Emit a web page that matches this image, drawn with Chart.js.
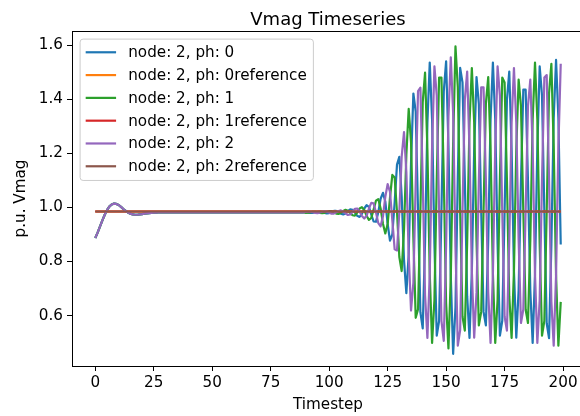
<!DOCTYPE html>
<html>
<head>
<meta charset="utf-8">
<script src="https://cdn.jsdelivr.net/npm/chart.js@4.4.1/dist/chart.umd.min.js"></script>
<style>
html, body { margin: 0; padding: 0; overflow: hidden; background: #fff; }
#wrap { width: 600px; height: 416px; }
</style>
</head>
<body>
<div id="wrap"><canvas id="vmagChart" width="600" height="416"></canvas></div>
<script>
const chartTitle = "Vmag Timeseries";
const xTitle = "Timestep";
const yTitle = "p.u. Vmag";

const seriesLabels = [
    "node: 2, ph: 0",
    "node: 2, ph: 0reference",
    "node: 2, ph: 1",
    "node: 2, ph: 1reference",
    "node: 2, ph: 2",
    "node: 2, ph: 2reference"
];
const seriesColors = ["#1f77b4", "#ff7f0e", "#2ca02c", "#d62728", "#9467bd", "#8c564b"];

// axis limits and ticks
const xMin = -9.95, xMax = 208.95, xStep = 25;
const yMin = 0.414, yMax = 1.652, yStep = 0.2;

// reference level per phase
const refVmag = [0.985, 0.985, 0.985];

// timesteps 0..89, the three phases overlap here
const startupVmag = [
    0.887, 0.907, 0.929, 0.951, 0.972, 0.990, 1.003, 1.011, 1.014, 1.013,
    1.009, 1.002, 0.994, 0.987, 0.981, 0.977, 0.974, 0.973, 0.973, 0.974,
    0.975, 0.977, 0.978, 0.979, 0.980, 0.981, 0.981, 0.982, 0.982, 0.982,
    0.982, 0.982, 0.982, 0.982, 0.982, 0.982, 0.982, 0.982, 0.982, 0.982,
    0.982, 0.982, 0.982, 0.982, 0.982, 0.982, 0.982, 0.982, 0.982, 0.982,
    0.982, 0.982, 0.982, 0.982, 0.982, 0.982, 0.982, 0.982, 0.982, 0.982,
    0.982, 0.982, 0.982, 0.982, 0.982, 0.982, 0.982, 0.982, 0.982, 0.982,
    0.982, 0.982, 0.982, 0.982, 0.982, 0.982, 0.982, 0.982, 0.982, 0.982,
    0.982, 0.982, 0.982, 0.982, 0.982, 0.982, 0.982, 0.982, 0.982, 0.982
];

// timesteps 90..199
const ph0Late = [
    0.983, 0.981, 0.980, 0.980, 0.982, 0.984, 0.985, 0.983, 0.980, 0.978,
    0.979, 0.983, 0.987, 0.987, 0.983, 0.977, 0.974, 0.978, 0.986, 0.993,
    0.991, 0.981, 0.969, 0.965, 0.976, 0.996, 1.008, 1.002, 0.974, 0.948,
    0.947, 0.982, 1.032, 1.054, 1.022, 0.939, 0.877, 0.900, 1.019, 1.158,
    1.187, 1.041, 0.805, 0.683, 0.827, 1.164, 1.421, 1.354, 0.986, 0.613,
    0.553, 0.873, 1.314, 1.535, 1.325, 0.866, 0.526, 0.581, 0.985, 1.429,
    1.540, 1.229, 0.745, 0.459, 0.631, 1.112, 1.516, 1.462, 1.102, 0.672,
    0.518, 0.765, 1.214, 1.482, 1.383, 0.987, 0.614, 0.564, 0.877, 1.325,
    1.535, 1.325, 0.866, 0.526, 0.581, 0.986, 1.398, 1.502, 1.213, 0.765,
    0.519, 0.693, 1.097, 1.435, 1.435, 1.097, 0.693, 0.499, 0.755, 1.221,
    1.521, 1.413, 0.985, 0.572, 0.517, 0.863, 1.331, 1.545, 1.331, 0.863
];
const ph1Late = [
    0.980, 0.981, 0.982, 0.984, 0.984, 0.983, 0.980, 0.979, 0.980, 0.984,
    0.986, 0.986, 0.982, 0.977, 0.976, 0.980, 0.987, 0.991, 0.988, 0.979,
    0.971, 0.970, 0.981, 0.996, 1.001, 0.991, 0.969, 0.954, 0.961, 0.992,
    1.025, 1.031, 0.996, 0.940, 0.904, 0.939, 1.035, 1.120, 1.111, 0.983,
    0.817, 0.765, 0.919, 1.195, 1.364, 1.242, 0.889, 0.592, 0.624, 0.986,
    1.389, 1.498, 1.213, 0.755, 0.499, 0.658, 1.105, 1.480, 1.480, 1.109,
    0.645, 0.479, 0.745, 1.237, 1.595, 1.444, 0.983, 0.597, 0.545, 0.871,
    1.314, 1.515, 1.314, 0.877, 0.564, 0.614, 0.987, 1.383, 1.482, 1.221,
    0.755, 0.499, 0.658, 1.105, 1.480, 1.462, 1.102, 0.672, 0.518, 0.765,
    1.214, 1.472, 1.375, 0.988, 0.623, 0.573, 0.880, 1.325, 1.535, 1.325,
    0.866, 0.526, 0.581, 0.984, 1.421, 1.531, 1.225, 0.750, 0.489, 0.651
];
const ph2Late = [
    0.983, 0.984, 0.984, 0.982, 0.980, 0.979, 0.981, 0.984, 0.986, 0.984,
    0.981, 0.977, 0.977, 0.982, 0.987, 0.989, 0.985, 0.978, 0.972, 0.974,
    0.984, 0.995, 0.996, 0.985, 0.968, 0.959, 0.969, 0.996, 1.017, 1.015,
    0.982, 0.942, 0.930, 0.967, 1.039, 1.086, 1.058, 0.953, 0.845, 0.841,
    0.984, 1.188, 1.278, 1.131, 0.827, 0.619, 0.721, 1.090, 1.430, 1.443,
    1.099, 0.675, 0.518, 0.755, 1.221, 1.521, 1.413, 0.985, 0.581, 0.507,
    0.860, 1.337, 1.555, 1.349, 0.854, 0.489, 0.547, 0.986, 1.398, 1.502,
    1.213, 0.765, 0.519, 0.686, 1.099, 1.444, 1.444, 1.099, 0.686, 0.499,
    0.755, 1.221, 1.521, 1.413, 0.985, 0.597, 0.545, 0.871, 1.314, 1.515,
    1.314, 0.880, 0.573, 0.623, 0.988, 1.375, 1.472, 1.221, 0.755, 0.499,
    0.658, 1.105, 1.480, 1.489, 1.107, 0.651, 0.489, 0.750, 1.225, 1.531
];

const timesteps = Array.from({ length: startupVmag.length + ph0Late.length }, (_, i) => i);

const seriesData = [
    startupVmag.concat(ph0Late),
    timesteps.map(() => refVmag[0]),
    startupVmag.concat(ph1Late),
    timesteps.map(() => refVmag[1]),
    startupVmag.concat(ph2Late),
    timesteps.map(() => refVmag[2])
];

const fontFamily = "'DejaVu Sans', 'Liberation Sans', sans-serif";
const fs = 15.2;

// title, axis labels, full frame and the inside legend, matplotlib style
const mplDecor = {
    id: "mplDecor",
    afterDraw(chart) {
        const ctx = chart.ctx;
        const a = chart.chartArea;
        ctx.save();

        ctx.strokeStyle = "#000";
        ctx.lineWidth = 1;
        ctx.strokeRect(a.left + 0.5, a.top + 0.5, a.right - a.left, a.bottom - a.top);

        ctx.fillStyle = "#000";
        ctx.textBaseline = "alphabetic";
        ctx.textAlign = "center";
        ctx.font = "18px " + fontFamily;
        ctx.fillText(chartTitle, (a.left + a.right) / 2, 25);

        ctx.font = fs + "px " + fontFamily;
        ctx.fillText(xTitle, (a.left + a.right) / 2, 409);

        ctx.save();
        ctx.translate(25, (a.top + a.bottom) / 2);
        ctx.rotate(-Math.PI / 2);
        ctx.fillText(yTitle, 0, 0);
        ctx.restore();

        // legend box
        ctx.font = fs + "px " + fontFamily;
        let textW = 0;
        seriesLabels.forEach(l => { textW = Math.max(textW, ctx.measureText(l).width); });
        const bx = a.left + 0.5 * fs;
        const by = a.top + 0.5 * fs;
        const rowH = fs * 1.5;
        const bw = 0.4 * fs + 2.8 * fs + textW + 0.4 * fs;
        const bh = 0.8 * fs + seriesLabels.length * fs + (seriesLabels.length - 1) * 0.5 * fs;

        ctx.beginPath();
        ctx.roundRect(bx + 0.5, by + 0.5, bw, bh, 3);
        ctx.fillStyle = "rgba(255,255,255,0.8)";
        ctx.fill();
        ctx.strokeStyle = "#cccccc";
        ctx.stroke();

        ctx.textAlign = "left";
        ctx.textBaseline = "middle";
        seriesLabels.forEach((l, i) => {
            const cy = by + 0.4 * fs + fs / 2 + i * rowH;
            ctx.beginPath();
            ctx.moveTo(bx + 0.4 * fs, cy);
            ctx.lineTo(bx + 2.4 * fs, cy);
            ctx.strokeStyle = seriesColors[i];
            ctx.lineWidth = 2.2;
            ctx.stroke();
            ctx.fillStyle = "#000";
            ctx.fillText(l, bx + 3.2 * fs, cy + 1);
        });

        ctx.restore();
    }
};

const ctx = document.getElementById("vmagChart");

new Chart(ctx, {
    type: "line",
    data: {
        labels: timesteps,
        datasets: seriesLabels.map((label, i) => ({
            label: label,
            data: seriesData[i],
            borderColor: seriesColors[i],
            backgroundColor: seriesColors[i],
            borderWidth: 2.2,
            borderJoinStyle: "round",
            pointRadius: 0,
            tension: 0,
            fill: false,
            order: seriesLabels.length - 1 - i
        }))
    },
    options: {
        responsive: false,
        animation: false,
        layout: { padding: { top: 31, right: 16, left: 0, bottom: 0 } },
        plugins: {
            legend: { display: false },
            tooltip: { enabled: false },
            title: { display: false }
        },
        scales: {
            x: {
                type: "linear",
                min: xMin,
                max: xMax,
                afterFit: s => { s.height = 50; },
                border: { display: false },
                grid: {
                    display: true,
                    drawOnChartArea: false,
                    drawTicks: true,
                    tickLength: 5,
                    tickColor: "#000",
                    tickWidth: 1
                },
                ticks: {
                    stepSize: xStep,
                    includeBounds: false,
                    autoSkip: false,
                    maxRotation: 0,
                    padding: 3,
                    color: "#000",
                    font: { family: fontFamily, size: fs }
                }
            },
            y: {
                min: yMin,
                max: yMax,
                afterFit: s => { s.width = 72; },
                border: { display: false },
                grid: {
                    display: true,
                    drawOnChartArea: false,
                    drawTicks: true,
                    tickLength: 5,
                    tickColor: "#000",
                    tickWidth: 1
                },
                ticks: {
                    stepSize: yStep,
                    includeBounds: false,
                    padding: 4,
                    color: "#000",
                    font: { family: fontFamily, size: fs },
                    callback: v => v.toFixed(1)
                }
            }
        }
    },
    plugins: [mplDecor]
});
</script>
</body>
</html>
